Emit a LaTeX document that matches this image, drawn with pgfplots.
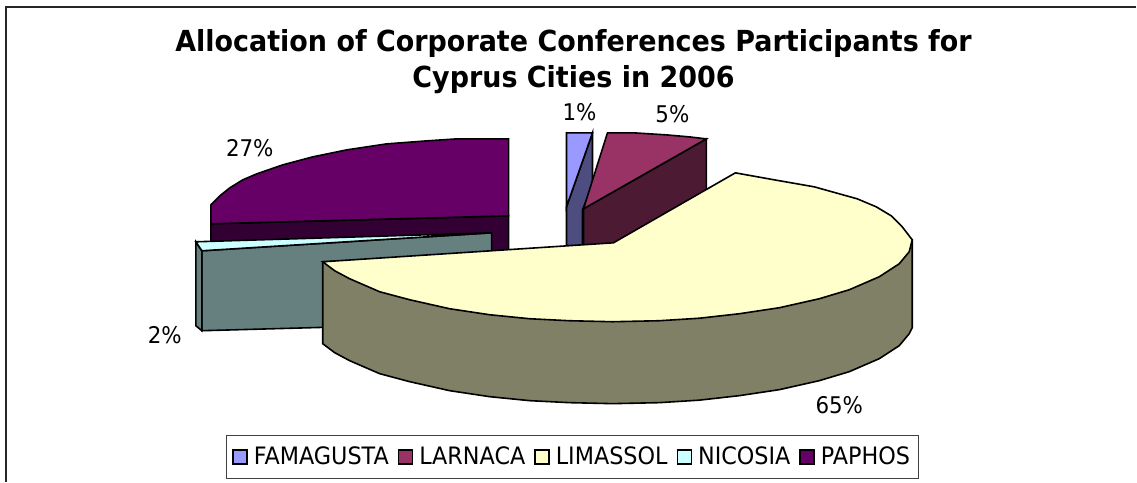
\documentclass[border=0pt]{standalone}
\usepackage{fontspec}
\setmainfont{DejaVu Sans}[FakeStretch=0.93]
\newfontfamily\titlefont{DejaVu Sans Bold}[FakeStretch=0.93]
\usepackage{pgfplots}
\pgfplotsset{compat=1.18}
\definecolor{fam}{HTML}{9999FF}\definecolor{famd}{HTML}{4D4D80}
\definecolor{lar}{HTML}{993366}\definecolor{lard}{HTML}{4D1A33}
\definecolor{lim}{HTML}{FFFFCC}\definecolor{limd}{HTML}{808066}
\definecolor{nic}{HTML}{CCFFFF}\definecolor{nicd}{HTML}{668080}
\definecolor{pap}{HTML}{660066}\definecolor{papd}{HTML}{330033}
\begin{document}
\begin{tikzpicture}
\begin{axis}[
  scale only axis, width=1137pt, height=482pt,
  xmin=0, xmax=1137, ymin=0, ymax=482, y dir=reverse,
  hide axis, clip=false,
  legend columns=5,
  legend style={at={(axis cs:226,435)}, anchor=north west, draw=black!75, line width=1pt,
    inner xsep=6pt, inner ysep=10pt, font=\fontsize{24}{28}\selectfont,
    /tikz/every odd column/.append style={column sep=4pt},
    /tikz/every even column/.append style={column sep=7pt}},
  legend image code/.code={\draw[#1,line width=1.5pt] (0pt,-7pt) rectangle (14pt,7pt);},
  every axis plot/.append style={draw=black, line width=1.6pt, line join=miter},
]
% full picture extent
\addplot[forget plot, draw=none] coordinates {(0,0) (1137,482)};
% chart frame (open at right and bottom)
\addplot[forget plot, draw=black!85, line width=2pt] coordinates {(1137,7) (6,7) (6,482)};

% PAPHOS 27%
\addplot[forget plot, fill=papd] coordinates {(211,224) (509,216) (509,252) (211,252)} -- cycle;
\addplot[forget plot, fill=pap] coordinates {(211,224) (211,205) (220,196) (230,188) (243,180) (257,174) (283,165) (313,157) (347,150) (387,144) (427,141) (457,139) (509,139) (509,216)} -- cycle;

% NICOSIA 2%
\addplot[forget plot, fill=nicd] coordinates {(202,251) (492,233) (492,323) (202,331)} -- cycle;
\addplot[forget plot, fill=nicd] coordinates {(196,242) (202,251) (202,331) (196,326)} -- cycle;
\addplot[forget plot, fill=nic] coordinates {(196,242) (492,233) (202,251)} -- cycle;

% FAMAGUSTA 1%
\addplot[forget plot, fill=famd] coordinates {(593,133) (593,185) (583,210) (583,246) (567,246) (567,207)} -- cycle;
\addplot[forget plot, fill=fam] coordinates {(567,133) (593,133) (567,207)} -- cycle;

% LARNACA 5%
\addplot[forget plot, fill=lard] coordinates {(584,209) (707,139) (707,200) (614,250) (584,250)} -- cycle;
\addplot[forget plot, fill=lar] coordinates {(608,133) (635,133) (667,135) (690,137) (707,139) (584,209)} -- cycle;

% LIMASSOL 65%
\addplot[forget plot, fill=limd] coordinates {(323,262) (913,240) (913,328) (910,334) (900,346) (880,359) (850,372) (820,381) (780,390) (740,396) (700,400.5) (660,403) (613,404) (570,403) (530,401) (490,397) (450,391) (410,382) (380,374) (350,361) (335,353) (323,344)} -- cycle;
\addplot[forget plot, fill=lim] coordinates {(323,262) (614,243) (736,173) (775,180) (815,187) (858,199) (877,207) (892,216) (903,227) (913,240) (910,252) (900,264) (880,277) (850,290) (820,299) (780,308) (740,314) (700,318.5) (660,321) (613,322) (570,321) (530,319) (490,315) (450,309) (410,300) (380,292) (350,279) (335,271)} -- cycle;

% legend entries
\addlegendimage{fill=fam}\addlegendentry{FAMAGUSTA}
\addlegendimage{fill=lar}\addlegendentry{LARNACA}
\addlegendimage{fill=lim}\addlegendentry{LIMASSOL}
\addlegendimage{fill=nic}\addlegendentry{NICOSIA}
\addlegendimage{fill=pap}\addlegendentry{PAPHOS}

% title
\node[align=center, font=\titlefont\fontsize{29}{36}\selectfont] at (axis cs:574,62) {Allocation of Corporate Conferences Participants for\\Cyprus Cities in 2006};

% data labels
\node[font=\fontsize{23}{26}\selectfont] at (axis cs:580,112) {1\%};
\node[font=\fontsize{23}{26}\selectfont] at (axis cs:673,114) {5\%};
\node[font=\fontsize{23}{26}\selectfont] at (axis cs:840,405) {65\%};
\node[font=\fontsize{23}{26}\selectfont] at (axis cs:165,335) {2\%};
\node[font=\fontsize{23}{26}\selectfont] at (axis cs:250,148) {27\%};
\end{axis}
\end{tikzpicture}
\end{document}
